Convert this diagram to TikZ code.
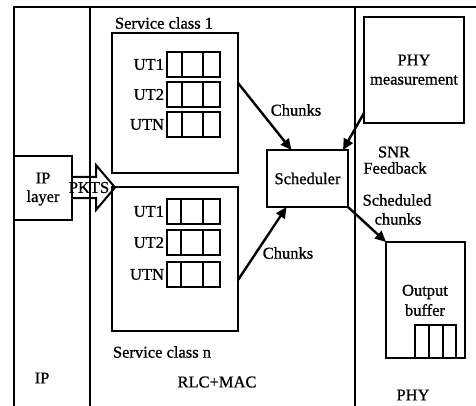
\documentclass[tikz,border=0pt]{standalone}
\usepackage{fontspec}
\setmainfont[FakeBold=0.9]{Liberation Serif}
\usetikzlibrary{arrows.meta,calc}
\begin{document}
\begin{tikzpicture}[x=1pt,y=-1pt,
  line width=2pt,
  every node/.style={font=\fontsize{16.5}{18}\selectfont, inner sep=0pt, outer sep=0pt},
  box/.style={draw, rectangle, anchor=north west},
  queue/.style={draw, rectangle, anchor=north west, minimum width=53, minimum height=25},
  lbl/.style={anchor=east},
  flow/.style={line width=2.4pt, -{Triangle[length=11pt,width=10pt]}, shorten >=0pt}
]
\useasboundingbox (0,0) rectangle (476,406);
% layer frame
\draw (14,406) -- (14,7) -- (476,7);
\draw (90,7) -- (90,406);
\draw (355,7) -- (355,406);

% service class boxes
\node[box, minimum width=126, minimum height=140] (sc1) at (112,33) {};
\node[box, minimum width=126, minimum height=144] (sc2) at (112,187) {};
\node (sc1t) at (164,23) {Service class 1};
\node (sc2t) at (162,352) {Service class n};

% queues upper
\foreach \n/\y/\t in {a/52/UT1,b/82/UT2,c/112/UTN}{
  \node[queue] (u\n) at (167,\y) {};
  \node[lbl] (ul\n) at ($(u\n.west)+(-3,0)$) {\t};
  \draw ([xshift=15pt]u\n.north west) -- ([xshift=15pt]u\n.south west);
  \draw ([xshift=36pt]u\n.north west) -- ([xshift=36pt]u\n.south west);
}
% queues lower
\foreach \n/\y/\t in {a/199/UT1,b/230/UT2,c/262/UTN}{
  \node[queue] (l\n) at (167,\y) {};
  \node[lbl] (ll\n) at ($(l\n.west)+(-3,0)$) {\t};
  \draw ([xshift=14pt]l\n.north west) -- ([xshift=14pt]l\n.south west);
  \draw ([xshift=36pt]l\n.north west) -- ([xshift=36pt]l\n.south west);
}

% IP layer
\node[box, minimum width=58, minimum height=64] (ip) at (14,156) {};
\node (ipt1) at (43,178) {IP};
\node (ipt2) at (43,198) {layer};
\draw (72,177) -- (96,177) -- (96,165) -- (115,187.5) -- (96,210) -- (96,198) -- (72,198);
\node (pkts) at (89,187.5) {PKTS};

% scheduler
\node[draw, minimum width=81, minimum height=57] (sched) at (307.5,178.5) {Scheduler};

% PHY measurement
\node[box, minimum width=100, minimum height=106] (phy) at (364,17) {};
\node (phyt1) at (414,60) {PHY};
\node (phyt2) at (414,80) {measurement};

% output buffer
\node[box, minimum width=79, minimum height=116] (ob) at (386,242) {};
\node (obt1) at (425,292) {Output};
\node (obt2) at (425,310) {buffer};
\node[box, minimum width=41, minimum height=33] (obq) at (415,325) {};
\draw ([xshift=14pt]obq.north west) -- ([xshift=14pt]obq.south west);
\draw ([xshift=28pt]obq.north west) -- ([xshift=28pt]obq.south west);

% labels
\node (ch1) at (296,110) {Chunks};
\node (ch2) at (288,253) {Chunks};
\node (snr1) at (394,152) {SNR};
\node (snr2) at (395,168) {Feedback};
\node (sc1l) at (397,200) {Scheduled};
\node (sc2l) at (398,219) {chunks};
\node (ipl) at (42,378) {IP};
\node (rlc) at (217,382) {RLC+MAC};
\node (phyl) at (413,395) {PHY};

% arrows
\draw[flow] ([yshift=20pt]sc1.east) -- ([xshift=-16pt]sched.north);
\draw[flow] ([yshift=-21pt]sc2.east) -- ([xshift=-21pt]sched.south);
\draw[flow] ([yshift=10pt]phy.south west) -- ([xshift=-5pt]sched.north east);
\draw[flow] (sched.south east) -- (ob.north west);
\end{tikzpicture}
\end{document}
